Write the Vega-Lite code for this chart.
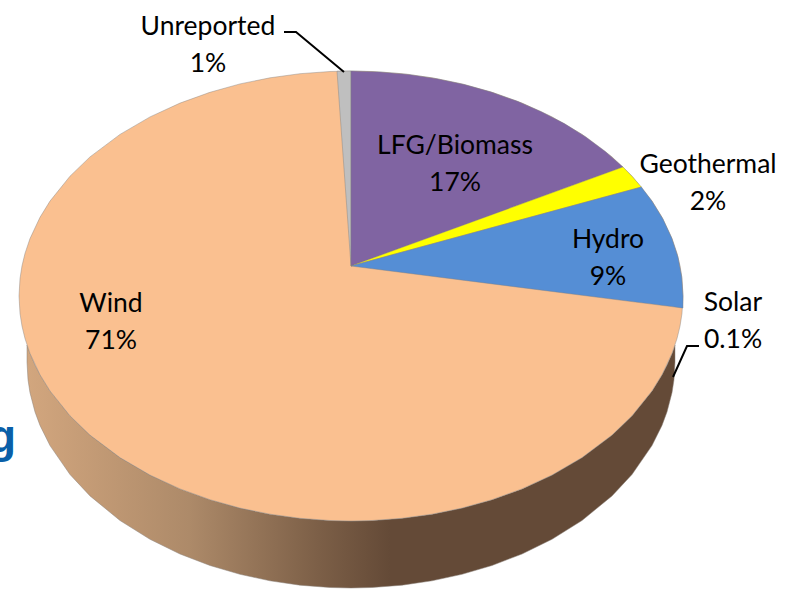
{"$schema":"https://vega.github.io/schema/vega-lite/v6.json","width":785,"height":590,"padding":0,"autosize":{"type":"none"},"background":"white","config":{"view":{"stroke":null}},
"datasets":{
"wall":[{"x":27,"top":345.1,"bottom":362},{"x":28,"top":348,"bottom":379.7},{"x":30,"top":353.4,"bottom":392.7},{"x":35,"top":365,"bottom":411.9},{"x":40,"top":374.7,"bottom":425.4},{"x":50,"top":390.9,"bottom":445.6},{"x":70,"top":415.8,"bottom":474.5},{"x":90,"top":435.1,"bottom":495.9},{"x":120,"top":457.6,"bottom":520.5},{"x":150,"top":475.1,"bottom":539.3},{"x":180,"top":488.9,"bottom":554},{"x":210,"top":499.7,"bottom":565.5},{"x":240,"top":508.1,"bottom":574.3},{"x":270,"top":514.2,"bottom":580.8},{"x":300,"top":518.3,"bottom":585.2},{"x":330,"top":520.5,"bottom":587.5},{"x":351,"top":521,"bottom":588},{"x":372,"top":520.5,"bottom":587.5},{"x":402,"top":518.3,"bottom":585.2},{"x":432,"top":514.2,"bottom":580.8},{"x":462,"top":508.1,"bottom":574.3},{"x":492,"top":499.7,"bottom":565.5},{"x":522,"top":488.9,"bottom":554},{"x":552,"top":475.1,"bottom":539.3},{"x":582,"top":457.6,"bottom":520.5},{"x":612,"top":435.1,"bottom":495.9},{"x":632,"top":415.8,"bottom":474.5},{"x":652,"top":390.9,"bottom":445.6},{"x":662,"top":374.7,"bottom":425.4},{"x":667,"top":365,"bottom":411.9},{"x":672,"top":353.4,"bottom":392.7},{"x":674,"top":348,"bottom":379.7},{"x":675,"top":345.1,"bottom":362}],
"pie":[
{"slice":"Wind","x":19,"top":296,"bottom":296},{"slice":"Wind","x":20,"top":278.5,"bottom":313.5},{"slice":"Wind","x":22,"top":265.8,"bottom":326.2},{"slice":"Wind","x":25,"top":253.4,"bottom":338.6},{"slice":"Wind","x":30,"top":238.6,"bottom":353.4},{"slice":"Wind","x":40,"top":217.3,"bottom":374.7},{"slice":"Wind","x":50,"top":201.1,"bottom":390.9},{"slice":"Wind","x":70,"top":176.2,"bottom":415.8},{"slice":"Wind","x":90,"top":156.9,"bottom":435.1},{"slice":"Wind","x":120,"top":134.4,"bottom":457.6},{"slice":"Wind","x":150,"top":116.9,"bottom":475.1},{"slice":"Wind","x":180,"top":103.1,"bottom":488.9},{"slice":"Wind","x":210,"top":92.3,"bottom":499.7},{"slice":"Wind","x":240,"top":83.9,"bottom":508.1},{"slice":"Wind","x":270,"top":77.8,"bottom":514.2},{"slice":"Wind","x":300,"top":73.7,"bottom":518.3},{"slice":"Wind","x":330,"top":71.5,"bottom":520.5},{"slice":"Wind","x":351,"top":71,"bottom":521},{"slice":"Wind","x":372,"top":71.5,"bottom":520.5},{"slice":"Wind","x":402,"top":73.7,"bottom":518.3},{"slice":"Wind","x":432,"top":77.8,"bottom":514.2},{"slice":"Wind","x":462,"top":83.9,"bottom":508.1},{"slice":"Wind","x":492,"top":92.3,"bottom":499.7},{"slice":"Wind","x":522,"top":103.1,"bottom":488.9},{"slice":"Wind","x":552,"top":116.9,"bottom":475.1},{"slice":"Wind","x":582,"top":134.4,"bottom":457.6},{"slice":"Wind","x":612,"top":156.9,"bottom":435.1},{"slice":"Wind","x":632,"top":176.2,"bottom":415.8},{"slice":"Wind","x":652,"top":201.1,"bottom":390.9},{"slice":"Wind","x":662,"top":217.3,"bottom":374.7},{"slice":"Wind","x":672,"top":238.6,"bottom":353.4},{"slice":"Wind","x":677,"top":253.4,"bottom":338.6},{"slice":"Wind","x":680,"top":265.8,"bottom":326.2},{"slice":"Wind","x":682,"top":278.5,"bottom":313.5},{"slice":"Wind","x":683,"top":296,"bottom":296},
{"slice":"Unreported","x":337,"top":71.2,"bottom":71.2},{"slice":"Unreported","x":351,"top":71,"bottom":266},
{"slice":"LFG/Biomass","x":351,"top":71,"bottom":266},{"slice":"LFG/Biomass","x":380,"top":71.9,"bottom":255.4},{"slice":"LFG/Biomass","x":408.6,"top":74.4,"bottom":245},{"slice":"LFG/Biomass","x":436.9,"top":78.7,"bottom":234.7},{"slice":"LFG/Biomass","x":464.5,"top":84.6,"bottom":224.7},{"slice":"LFG/Biomass","x":491.3,"top":92.1,"bottom":214.9},{"slice":"LFG/Biomass","x":517,"top":101.1,"bottom":205.6},{"slice":"LFG/Biomass","x":541.4,"top":111.7,"bottom":196.7},{"slice":"LFG/Biomass","x":564.4,"top":123.6,"bottom":188.3},{"slice":"LFG/Biomass","x":585.8,"top":136.9,"bottom":180.5},{"slice":"LFG/Biomass","x":605.3,"top":151.4,"bottom":173.4},{"slice":"LFG/Biomass","x":623,"top":167,"bottom":167},
{"slice":"Geothermal","x":351,"top":266,"bottom":266},{"slice":"Geothermal","x":623,"top":167,"bottom":192},{"slice":"Geothermal","x":632.5,"top":176.8,"bottom":189.4},{"slice":"Geothermal","x":641.4,"top":187,"bottom":187},
{"slice":"Hydro","x":351,"top":266,"bottom":266},{"slice":"Hydro","x":641.4,"top":187,"bottom":302.8},{"slice":"Hydro","x":651.9,"top":200.9,"bottom":304.1},{"slice":"Hydro","x":663,"top":219,"bottom":305.5},{"slice":"Hydro","x":671.7,"top":237.8,"bottom":306.6},{"slice":"Hydro","x":678,"top":256.9,"bottom":307.4},{"slice":"Hydro","x":681.7,"top":276.4,"bottom":307.9},{"slice":"Hydro","x":683,"top":296,"bottom":308}
],
"labels":[{"label":"Unreported\n1%","x":208,"y":25},{"label":"LFG/Biomass\n17%","x":455,"y":144},{"label":"Geothermal\n2%","x":708,"y":163},{"label":"Hydro\n9%","x":608,"y":238},{"label":"Solar\n0.1%","x":733,"y":301},{"label":"Wind\n71%","x":111,"y":302}],
"leaders":[{"leader":"Unreported","x":284,"y":32,"step":1},{"leader":"Unreported","x":296,"y":32,"step":2},{"leader":"Unreported","x":344,"y":72,"step":3},{"leader":"Solar","x":699,"y":346,"step":1},{"leader":"Solar","x":687,"y":346,"step":2},{"leader":"Solar","x":673,"y":377,"step":3}],
"backdrop":[{"letter":"g","x":16,"y":452}]
},
"layer":[
{"data":{"name":"backdrop"},"mark":{"type":"text","font":"Liberation Sans","fontWeight":"bold","fontSize":46,"align":"right","baseline":"alphabetic","color":"#0a5fa8"},"encoding":{"x":{"field":"x","type":"quantitative","scale":{"domain":[0,785],"nice":false,"zero":false},"axis":null},"y":{"field":"y","type":"quantitative","scale":{"domain":[590,0],"nice":false,"zero":false},"axis":null},"text":{"field":"letter"}}},
{"data":{"name":"wall"},"mark":{"type":"area","interpolate":"linear","clip":false,"stroke":"#8a8178","strokeWidth":0.5,"color":{"x1":0,"y1":0,"x2":1,"y2":0,"gradient":"linear","stops":[{"offset":0,"color":"#d2a67e"},{"offset":0.25,"color":"#ad8a69"},{"offset":0.45,"color":"#7c5f47"},{"offset":0.56,"color":"#644a37"},{"offset":1,"color":"#644a37"}]}},"encoding":{"x":{"field":"x","type":"quantitative"},"y":{"field":"top","type":"quantitative"},"y2":{"field":"bottom"}}},
{"data":{"name":"pie"},"mark":{"type":"area","interpolate":"linear","stroke":"#7f7f7f","strokeWidth":0.6,"strokeOpacity":0.7},"encoding":{"x":{"field":"x","type":"quantitative"},"y":{"field":"top","type":"quantitative"},"y2":{"field":"bottom"},"detail":{"field":"slice"},"color":{"field":"slice","type":"nominal","legend":null,"scale":{"domain":["Wind","Unreported","LFG/Biomass","Geothermal","Hydro"],"range":["#fac090","#bfbfbf","#8064a2","#ffff00","#558ed5"]}}}},
{"data":{"name":"leaders"},"mark":{"type":"line","color":"#000000","strokeWidth":2},"encoding":{"x":{"field":"x","type":"quantitative"},"y":{"field":"y","type":"quantitative"},"detail":{"field":"leader"},"order":{"field":"step","type":"quantitative"}}},
{"data":{"name":"labels"},"mark":{"type":"text","font":"Lato","fontSize":26.5,"align":"center","baseline":"middle","lineBreak":"\n","lineHeight":37,"dy":1.5,"color":"#000000"},"encoding":{"x":{"field":"x","type":"quantitative"},"y":{"field":"y","type":"quantitative"},"text":{"field":"label"}}}
]}
